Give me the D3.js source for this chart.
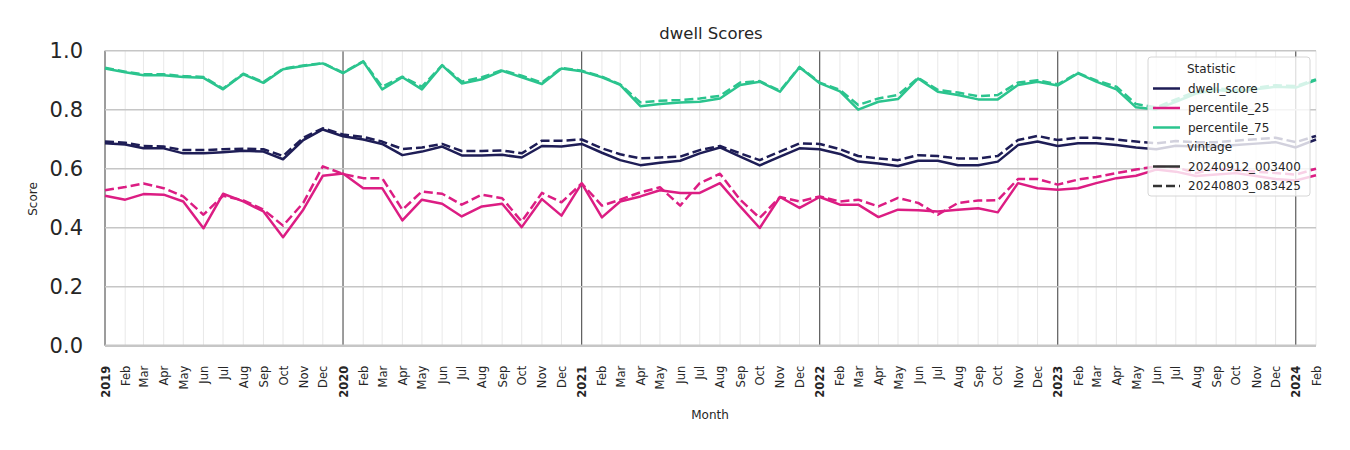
<!DOCTYPE html>
<html><head><meta charset="utf-8">
<script src="https://cdn.jsdelivr.net/npm/d3@7"></script>
<style>body{margin:0;background:#fff}svg{display:block;font-family:"DejaVu Sans",sans-serif}</style>
</head><body><svg id="c" width="1350" height="450"></svg>
<script>
const months = d3.timeMonth.range(new Date(2019,0,1), new Date(2024,1,2));
const dwell_solid = [0.686,0.682,0.669,0.669,0.652,0.652,0.656,0.661,0.658,0.632,0.697,0.733,
 0.710,0.699,0.684,0.646,0.658,0.675,0.645,0.645,0.647,0.638,0.677,0.675,
 0.684,0.654,0.629,0.612,0.620,0.627,0.652,0.672,0.641,0.611,0.641,0.669,
 0.666,0.650,0.624,0.618,0.609,0.627,0.627,0.612,0.612,0.624,0.680,0.692,
 0.677,0.686,0.686,0.680,0.672,0.666,0.678,0.675,0.675,0.680,0.685,0.690,
 0.672,0.699];
const dwell_dash = [0.692,0.688,0.677,0.675,0.663,0.663,0.666,0.668,0.666,0.643,0.705,0.737,
 0.716,0.708,0.692,0.667,0.672,0.684,0.660,0.660,0.662,0.652,0.695,0.695,
 0.699,0.669,0.649,0.635,0.638,0.641,0.663,0.677,0.652,0.629,0.658,0.686,
 0.684,0.666,0.643,0.635,0.629,0.646,0.643,0.635,0.635,0.643,0.697,0.711,
 0.697,0.705,0.705,0.699,0.692,0.686,0.694,0.690,0.690,0.695,0.700,0.705,
 0.690,0.711];
const p25_solid = [0.508,0.495,0.514,0.512,0.489,0.398,0.515,0.489,0.455,0.368,0.461,0.576,
 0.584,0.534,0.534,0.425,0.495,0.481,0.438,0.472,0.481,0.402,0.497,0.441,
 0.550,0.435,0.489,0.506,0.527,0.518,0.518,0.551,0.472,0.399,0.504,0.467,
 0.504,0.478,0.478,0.436,0.461,0.459,0.455,0.461,0.466,0.452,0.551,0.534,
 0.529,0.534,0.551,0.568,0.576,0.597,0.590,0.575,0.580,0.585,0.575,0.565,
 0.560,0.578];
const p25_dash = [0.527,0.538,0.550,0.534,0.506,0.444,0.508,0.493,0.461,0.407,0.484,0.608,
 0.582,0.568,0.568,0.461,0.523,0.515,0.478,0.512,0.500,0.421,0.518,0.486,
 0.550,0.475,0.495,0.520,0.537,0.475,0.551,0.583,0.495,0.433,0.504,0.489,
 0.506,0.489,0.495,0.472,0.501,0.484,0.444,0.484,0.492,0.493,0.565,0.565,
 0.546,0.563,0.572,0.585,0.597,0.608,0.605,0.585,0.600,0.595,0.590,0.585,
 0.580,0.600];
const p75_solid = [0.940,0.927,0.917,0.917,0.911,0.908,0.869,0.920,0.891,0.937,0.948,0.957,
 0.924,0.963,0.869,0.910,0.869,0.950,0.889,0.903,0.932,0.910,0.887,0.940,
 0.930,0.910,0.884,0.812,0.819,0.824,0.827,0.838,0.884,0.895,0.861,0.944,
 0.890,0.862,0.800,0.827,0.836,0.906,0.861,0.850,0.835,0.835,0.884,0.895,
 0.882,0.923,0.895,0.869,0.808,0.801,0.827,0.855,0.867,0.861,0.869,0.878,
 0.875,0.900];
const p75_dash = [0.942,0.929,0.920,0.920,0.914,0.911,0.872,0.922,0.894,0.939,0.950,0.958,
 0.926,0.964,0.878,0.912,0.878,0.951,0.895,0.910,0.934,0.915,0.892,0.942,
 0.932,0.912,0.886,0.825,0.830,0.833,0.838,0.847,0.892,0.897,0.864,0.945,
 0.892,0.867,0.816,0.838,0.850,0.908,0.867,0.858,0.846,0.850,0.892,0.900,
 0.886,0.925,0.899,0.878,0.819,0.808,0.835,0.862,0.872,0.867,0.874,0.883,
 0.880,0.903];
const statNames = ["dwell_score","percentile_25","percentile_75"];
const statColors = ["#1e1d56","#dc1d83","#2bc48e"];
const vintages = ["20240912_003400","20240803_083425"];
const yTicks = [0,0.2,0.4,0.6,0.8,1.0];

const svg = d3.select("#c");
const L=105, R=1316, T=50.7, B=345.7;
const x = d3.scaleTime().domain([new Date(2019,0,1), new Date(2024,1,1)]).range([L,R]);
const y = d3.scaleLinear().domain([0,1]).range([B,T]);

// month grid
svg.append("g").selectAll("line").data(months).join("line")
  .attr("x1",d=>x(d)).attr("x2",d=>x(d)).attr("y1",T).attr("y2",B)
  .attr("stroke",d=>d.getMonth()===0?"#3a3a3a":"#e2e2e2")
  .attr("stroke-width",d=>d.getMonth()===0?1:0.8);
// horizontal grid
svg.append("g").selectAll("line").data(yTicks).join("line")
  .attr("x1",L).attr("x2",R).attr("y1",d=>y(d)).attr("y2",d=>y(d))
  .attr("stroke","#c6c6c6").attr("stroke-width",d=>d===0?2.5:1.5);

// lines
const line = d3.line().x((d,i)=>x(months[i])).y(d=>y(d));
const series = [
  {v:dwell_solid,c:0,dash:false},{v:p25_solid,c:1,dash:false},{v:p75_solid,c:2,dash:false},
  {v:dwell_dash,c:0,dash:true},{v:p25_dash,c:1,dash:true},{v:p75_dash,c:2,dash:true}];
svg.append("g").selectAll("path").data(series).join("path")
  .attr("d",d=>line(d.v)).attr("fill","none")
  .attr("stroke",d=>statColors[d.c]).attr("stroke-width",2.5)
  .attr("stroke-dasharray",d=>d.dash?"9,4":null)
  .attr("stroke-linejoin","round");

// y axis labels
const yAxis = d3.axisLeft(y).tickValues(yTicks).tickFormat(d3.format(".1f")).tickSize(0).tickPadding(22);
const ya = svg.append("g").attr("transform",`translate(${L},0)`).call(yAxis);
ya.select(".domain").remove();
ya.selectAll("text").attr("font-size",21).attr("fill","#262626").attr("font-family","DejaVu Sans");

// x axis labels
const xAxis = d3.axisBottom(x).tickValues(months).tickSize(0)
  .tickFormat(d=>d.getMonth()===0?d3.timeFormat("%Y")(d):d3.timeFormat("%b")(d));
const xa = svg.append("g").attr("transform",`translate(0,${B})`).call(xAxis);
xa.select(".domain").remove();
xa.selectAll("text")
  .attr("transform","rotate(-90)")
  .attr("x",-20).attr("y",0).attr("dy","0.35em")
  .attr("text-anchor","end")
  .attr("font-size",11.5).attr("fill","#262626").attr("font-family","DejaVu Sans")
  .attr("font-weight",d=>d.getMonth()===0?"bold":"normal");

// titles
svg.append("text").attr("x",711).attr("y",39).attr("text-anchor","middle")
  .attr("font-size",16.5).attr("fill","#262626").text("dwell Scores");
svg.append("text").attr("x",710).attr("y",419).attr("text-anchor","middle")
  .attr("font-size",12).attr("fill","#262626").text("Month");
svg.append("text").attr("transform","translate(37,199) rotate(-90)").attr("text-anchor","middle")
  .attr("font-size",12).attr("fill","#262626").text("Score");

// legend
const lg = svg.append("g").attr("transform","translate(1148,57)");
lg.append("rect").attr("x",0).attr("y",0).attr("width",162).attr("height",139).attr("rx",3)
  .attr("fill","#fff").attr("fill-opacity",0.8).attr("stroke","#d6d6d6").attr("stroke-width",1);
const rows = [
  {t:"Statistic",h:null},
  {t:statNames[0],h:{c:statColors[0],dash:false}},
  {t:statNames[1],h:{c:statColors[1],dash:false}},
  {t:statNames[2],h:{c:statColors[2],dash:false}},
  {t:"vintage",h:null},
  {t:vintages[0],h:{c:"#333",dash:false}},
  {t:vintages[1],h:{c:"#333",dash:true}}];
rows.forEach((r,i)=>{
  const yy = 12 + i*19.5;
  if(r.h){
    lg.append("line").attr("x1",5).attr("x2",32).attr("y1",yy).attr("y2",yy)
      .attr("stroke",r.h.c).attr("stroke-width",2.5).attr("stroke-dasharray",r.h.dash?"9,4":null);
    lg.append("text").attr("x",40).attr("y",yy).attr("dy","0.35em").attr("font-size",12).attr("fill","#262626").text(r.t);
  } else {
    lg.append("text").attr("x",39).attr("y",yy).attr("dy","0.35em").attr("font-size",12).attr("fill","#262626").text(r.t);
  }
});
</script></body></html>
